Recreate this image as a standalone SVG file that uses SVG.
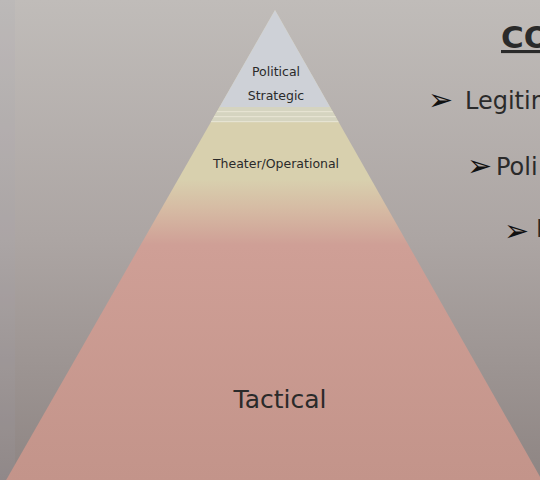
<svg xmlns="http://www.w3.org/2000/svg" width="540" height="480" viewBox="0 0 540 480">
  <defs>
    <linearGradient id="bg" x1="0" y1="0" x2="0" y2="480" gradientUnits="userSpaceOnUse">
      <stop offset="0" stop-color="#c0bcb9"/>
      <stop offset="0.5" stop-color="#aca5a3"/>
      <stop offset="1" stop-color="#8e8583"/>
    </linearGradient>
    <linearGradient id="pyr" x1="0" y1="10" x2="0" y2="480" gradientUnits="userSpaceOnUse">
      <stop offset="0" stop-color="#d8d0ae"/>
      <stop offset="0.36" stop-color="#d8d0ae"/>
      <stop offset="0.42" stop-color="#d6bca4"/>
      <stop offset="0.5" stop-color="#cf9f96"/>
      <stop offset="1" stop-color="#c3948a"/>
    </linearGradient>
    <clipPath id="pclip">
      <polygon points="275,10 5,482 543,482"/>
    </clipPath>
    <style>
      .lbl { font-family: "DejaVu Sans", Verdana, sans-serif; fill: #2a2a2a; text-anchor: middle; }
      .rt { font-family: "DejaVu Sans", Verdana, sans-serif; fill: #2a2a2a; font-size: 24px; }
      .ar { font-family: "DejaVu Sans", sans-serif; fill: #111; font-size: 30px; }
    </style>
  </defs>
  <rect width="540" height="480" fill="url(#bg)"/>
  <rect x="0" y="0" width="15" height="480" fill="#a8a6b4" opacity="0.12"/>

  <g id="pyramid" clip-path="url(#pclip)">
    <rect x="0" y="0" width="540" height="480" fill="url(#pyr)"/>
    <rect x="0" y="0" width="540" height="107" fill="#ced1d7"/>
    <rect x="0" y="107" width="540" height="15" fill="#d5d4c0"/>
    <rect x="0" y="111" width="540" height="1.2" fill="#e6e3d2"/>
    <rect x="0" y="116" width="540" height="1.2" fill="#e6e3d2"/>
    <rect x="0" y="121" width="540" height="1.2" fill="#e6e3d2"/>
  </g>

  <g id="node-political">
    <text class="lbl" x="276" y="76" font-size="12.5">Political</text>
  </g>
  <g id="node-strategic">
    <text class="lbl" x="276" y="100" font-size="12.5">Strategic</text>
  </g>
  <g id="node-theater">
    <text class="lbl" x="276" y="168" font-size="12.5">Theater/Operational</text>
  </g>
  <g id="node-tactical">
    <text class="lbl" x="280" y="408" font-size="25">Tactical</text>
  </g>

  <g id="connectors"></g>

  <g id="text-panel">
    <text x="501" y="48" font-family="DejaVu Sans, Verdana, sans-serif" font-weight="bold" font-size="31" fill="#2a2a2a" text-decoration="underline">CO</text>
    <text class="ar" x="428" y="110">➢</text>
    <text class="rt" x="465" y="109">Legitim</text>
    <text class="ar" x="467" y="176">➢</text>
    <text class="rt" x="496" y="175">Poli</text>
    <text class="ar" x="504" y="241">➢</text>
    <text class="rt" x="536" y="237">I</text>
  </g>
</svg>
